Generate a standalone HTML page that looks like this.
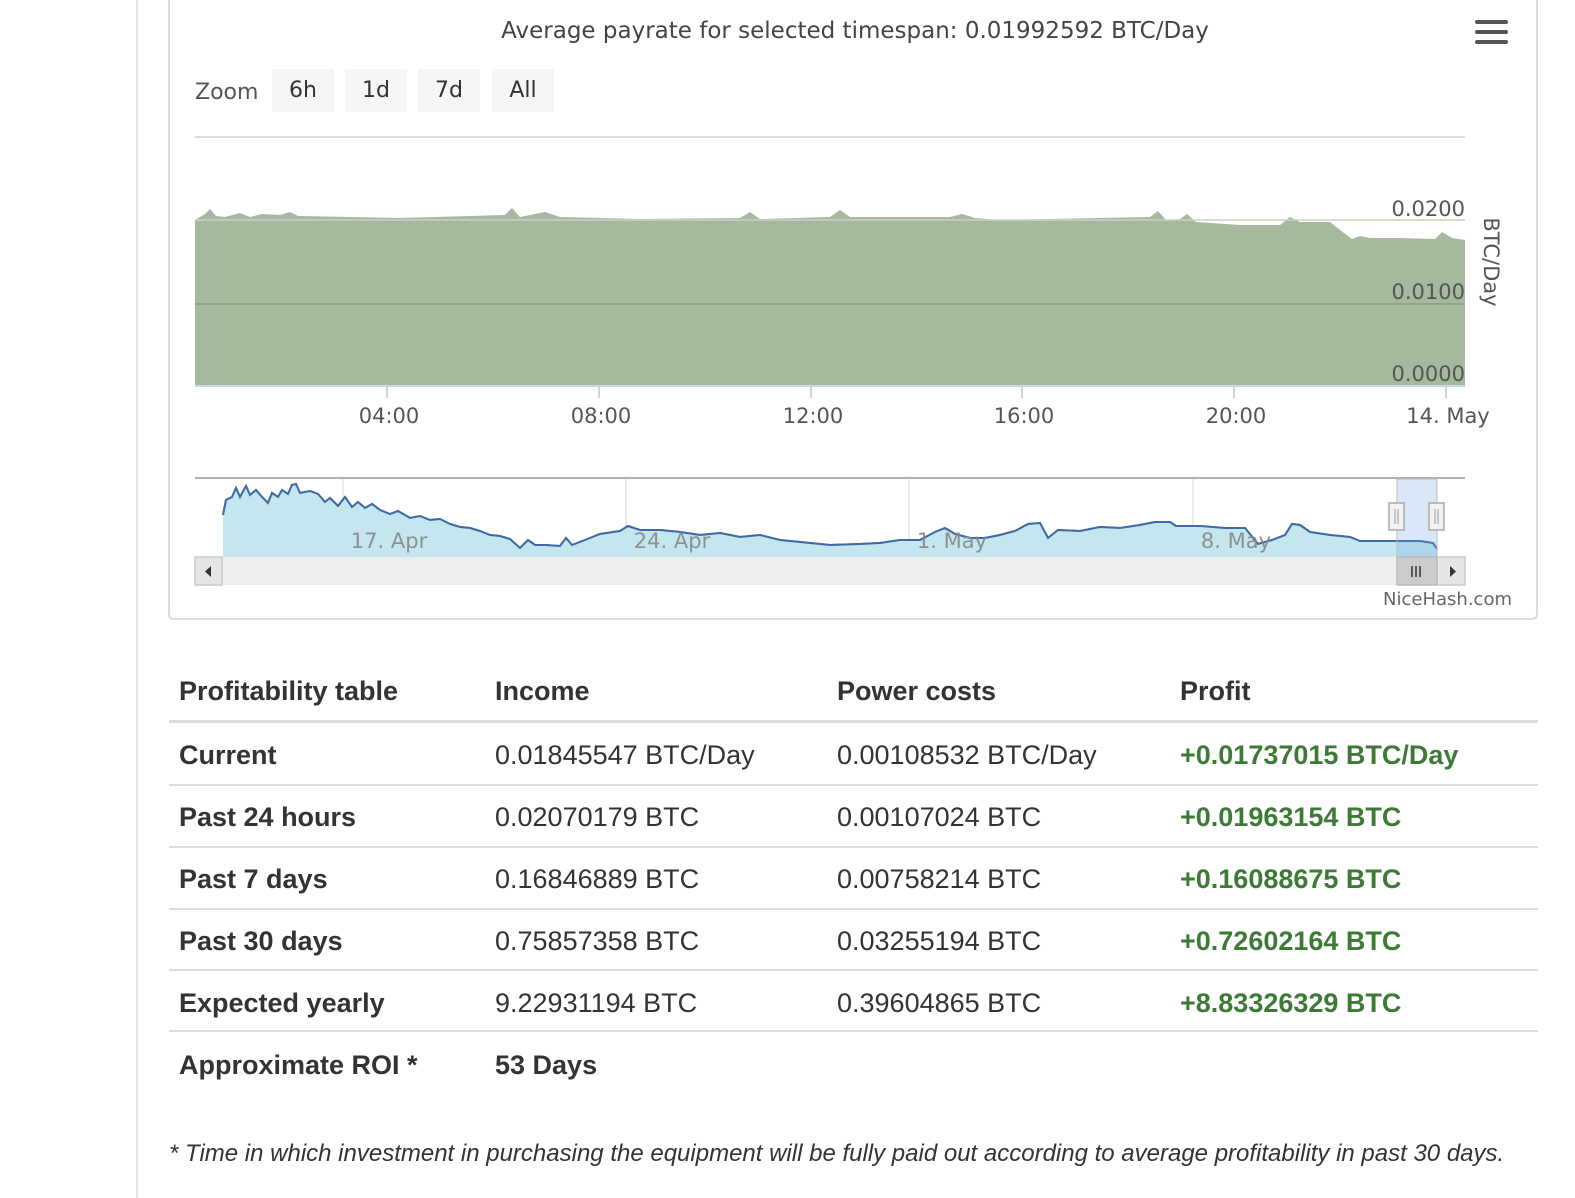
<!DOCTYPE html>
<html><head><meta charset="utf-8"><style>
body{margin:0;width:1575px;height:1198px;background:#fff;position:relative;overflow:hidden;font-family:"Liberation Sans",sans-serif}
.t{position:absolute;font-size:27px;color:#333;letter-spacing:0;white-space:nowrap}
.b{font-weight:bold}
.g{color:#3d7a35;font-weight:bold}
.ln{position:absolute;left:169px;width:1369px;height:2px;background:#ddd}
</style></head><body>
<div style="position:absolute;left:136px;top:0;width:2px;height:1198px;background:#e6e6e6"></div>
<svg width="1575" height="640" style="position:absolute;left:0;top:0" font-family="DejaVu Sans, sans-serif">
<path d="M169,0 V614 Q169,619 174,619 H1532 Q1537,619 1537,614 V0" fill="none" stroke="#ddd" stroke-width="2"/>
<text x="855" y="38" text-anchor="middle" font-size="23" fill="#444">Average payrate for selected timespan: 0.01992592 BTC/Day</text>
<g fill="#555"><rect x="1475" y="20" width="33" height="4" rx="2"/><rect x="1475" y="30" width="33" height="4" rx="2"/><rect x="1475" y="40" width="33" height="4" rx="2"/></g>
<text x="195" y="99" font-size="22" fill="#555">Zoom</text>
<g fill="#f6f6f6"><rect x="272" y="69" width="62" height="43"/><rect x="345" y="69" width="62" height="43"/><rect x="418" y="69" width="62" height="43"/><rect x="492" y="69" width="62" height="43"/></g>
<g font-size="22" fill="#333" text-anchor="middle"><text x="303" y="97">6h</text><text x="376" y="97">1d</text><text x="449" y="97">7d</text><text x="523" y="97">All</text></g>
<line x1="195" y1="137" x2="1465" y2="137" stroke="#ddd" stroke-width="2"/>
<path d="M195,220 L205,214 210,209 216,216 225,217 240,213 250,217 262,214 280,215 290,212 298,216 400,218 505,215 512,208 520,217 545,212 560,217 640,219 740,218 750,212 760,219 830,217 840,210 850,217 950,217 962,214 975,218 1000,220 1100,218 1150,217 1158,211 1166,220 1180,219 1187,214 1196,222 1240,225 1280,225 1290,217 1300,222 1330,222 1340,230 1352,239 1360,236 1370,238 1400,238 1435,239 1442,232 1452,238 1465,240 V386 H195 Z" fill="#a5b99e"/>
<line x1="195" y1="220" x2="1465" y2="220" stroke="#c8d3c4" stroke-width="1.5"/>
<line x1="195" y1="304" x2="1465" y2="304" stroke="#8a9e84" stroke-width="1.5"/>
<line x1="195" y1="386" x2="1465" y2="386" stroke="#c7d7e5" stroke-width="2"/>
<g stroke="#c7d7e5" stroke-width="2"><line x1="387" y1="387" x2="387" y2="398"/><line x1="599" y1="387" x2="599" y2="398"/><line x1="811" y1="387" x2="811" y2="398"/><line x1="1022" y1="387" x2="1022" y2="398"/><line x1="1234" y1="387" x2="1234" y2="398"/><line x1="1446" y1="387" x2="1446" y2="398"/></g>
<g font-size="21" fill="#555" text-anchor="end"><text x="1465" y="216">0.0200</text><text x="1465" y="299">0.0100</text><text x="1465" y="381">0.0000</text></g>
<text transform="translate(1484,262) rotate(90)" font-size="21" fill="#555" text-anchor="middle">BTC/Day</text>
<g font-size="21" fill="#555" text-anchor="middle"><text x="389" y="423">04:00</text><text x="601" y="423">08:00</text><text x="813" y="423">12:00</text><text x="1024" y="423">16:00</text><text x="1236" y="423">20:00</text><text x="1448" y="423">14. May</text></g>
<g stroke="#e6e6e6" stroke-width="1.5"><line x1="343" y1="479" x2="343" y2="556"/><line x1="626" y1="479" x2="626" y2="556"/><line x1="909" y1="479" x2="909" y2="556"/><line x1="1193" y1="479" x2="1193" y2="556"/></g>
<path id="nl" d="M223,515 L226,500 232,497 236,488 240,497 246,486 250,495 256,490 262,497 268,503 272,493 278,497 282,490 288,494 292,485 296,484 300,493 310,491 318,494 325,502 330,498 338,506 345,497 352,507 358,502 365,508 372,504 380,510 390,514 398,511 410,518 420,516 430,520 440,519 450,524 460,527 470,528 480,531 490,535 500,536 510,539 520,548 528,540 535,545 545,545 560,546 566,538 572,545 585,540 600,534 620,531 628,526 640,530 660,530 680,532 700,535 720,533 740,537 760,535 780,540 800,542 830,545 860,544 880,543 900,540 920,540 935,532 945,528 955,534 970,538 985,538 1000,535 1015,531 1028,524 1040,523 1048,538 1058,530 1080,531 1100,527 1120,528 1140,525 1155,522 1170,522 1176,526 1200,526 1225,528 1245,528 1258,544 1272,540 1285,535 1292,524 1300,525 1310,532 1330,535 1350,537 1360,541 1390,541 1420,541 1433,543 1437,549" fill="none" stroke="#3f6aa3" stroke-width="2"/>
<path d="M223,515 L226,500 232,497 236,488 240,497 246,486 250,495 256,490 262,497 268,503 272,493 278,497 282,490 288,494 292,485 296,484 300,493 310,491 318,494 325,502 330,498 338,506 345,497 352,507 358,502 365,508 372,504 380,510 390,514 398,511 410,518 420,516 430,520 440,519 450,524 460,527 470,528 480,531 490,535 500,536 510,539 520,548 528,540 535,545 545,545 560,546 566,538 572,545 585,540 600,534 620,531 628,526 640,530 660,530 680,532 700,535 720,533 740,537 760,535 780,540 800,542 830,545 860,544 880,543 900,540 920,540 935,532 945,528 955,534 970,538 985,538 1000,535 1015,531 1028,524 1040,523 1048,538 1058,530 1080,531 1100,527 1120,528 1140,525 1155,522 1170,522 1176,526 1200,526 1225,528 1245,528 1258,544 1272,540 1285,535 1292,524 1300,525 1310,532 1330,535 1350,537 1360,541 1390,541 1420,541 1433,543 1437,549 V557 H223 Z" fill="#c3e6ef"/>
<use href="#nl"/>
<g font-size="21" fill="#888" text-anchor="middle" opacity="0.9"><text x="389" y="548">17. Apr</text><text x="672" y="548">24. Apr</text><text x="952" y="548">1. May</text><text x="1236" y="548">8. May</text></g>
<line x1="195" y1="478" x2="1465" y2="478" stroke="#b0b0b8" stroke-width="2"/>
<rect x="1397" y="479" width="40" height="78" fill="#6aa0e0" fill-opacity="0.25" stroke="#bbb" stroke-width="1"/>
<rect x="195" y="557" width="1270" height="28" fill="#eee"/>
<rect x="195" y="557" width="27" height="28" fill="#e6e6e6" stroke="#ccc" stroke-width="1.5"/>
<path d="M211,566 v11 l-6,-5.5 z" fill="#333"/>
<rect x="1437" y="557" width="28" height="28" fill="#e6e6e6" stroke="#ccc" stroke-width="1.5"/>
<path d="M1450,566 v11 l6,-5.5 z" fill="#333"/>
<rect x="1397" y="557" width="40" height="28" fill="#ccc" stroke="#bbb" stroke-width="1.5"/>
<g stroke="#333" stroke-width="1.5"><line x1="1412" y1="566" x2="1412" y2="577"/><line x1="1416" y1="566" x2="1416" y2="577"/><line x1="1420" y1="566" x2="1420" y2="577"/></g>
<g fill="#f2f2f2" stroke="#aaa" stroke-width="1.5"><rect x="1389" y="503" width="15" height="27"/><rect x="1429" y="503" width="15" height="27"/></g>
<g stroke="#999" stroke-width="1"><line x1="1395" y1="509" x2="1395" y2="524"/><line x1="1398" y1="509" x2="1398" y2="524"/><line x1="1435" y1="509" x2="1435" y2="524"/><line x1="1438" y1="509" x2="1438" y2="524"/></g>
<text x="1512" y="605" text-anchor="end" font-size="18" fill="#666">NiceHash.com</text>
</svg>
<div class="ln" style="top:720px;height:3px"></div>
<div class="ln" style="top:784px"></div>
<div class="ln" style="top:846px"></div>
<div class="ln" style="top:908px"></div>
<div class="ln" style="top:969px"></div>
<div class="ln" style="top:1030px"></div>
<div class="t b" style="left:179px;top:676px">Profitability table</div>
<div class="t b" style="left:495px;top:676px">Income</div>
<div class="t b" style="left:837px;top:676px">Power costs</div>
<div class="t b" style="left:1180px;top:676px">Profit</div>

<div class="t b" style="left:179px;top:740px">Current</div>
<div class="t" style="left:495px;top:740px">0.01845547 BTC/Day</div>
<div class="t" style="left:837px;top:740px">0.00108532 BTC/Day</div>
<div class="t g" style="left:1180px;top:740px">+0.01737015 BTC/Day</div>

<div class="t b" style="left:179px;top:802px">Past 24 hours</div>
<div class="t" style="left:495px;top:802px">0.02070179 BTC</div>
<div class="t" style="left:837px;top:802px">0.00107024 BTC</div>
<div class="t g" style="left:1180px;top:802px">+0.01963154 BTC</div>

<div class="t b" style="left:179px;top:864px">Past 7 days</div>
<div class="t" style="left:495px;top:864px">0.16846889 BTC</div>
<div class="t" style="left:837px;top:864px">0.00758214 BTC</div>
<div class="t g" style="left:1180px;top:864px">+0.16088675 BTC</div>

<div class="t b" style="left:179px;top:926px">Past 30 days</div>
<div class="t" style="left:495px;top:926px">0.75857358 BTC</div>
<div class="t" style="left:837px;top:926px">0.03255194 BTC</div>
<div class="t g" style="left:1180px;top:926px">+0.72602164 BTC</div>

<div class="t b" style="left:179px;top:988px">Expected yearly</div>
<div class="t" style="left:495px;top:988px">9.22931194 BTC</div>
<div class="t" style="left:837px;top:988px">0.39604865 BTC</div>
<div class="t g" style="left:1180px;top:988px">+8.83326329 BTC</div>

<div class="t b" style="left:179px;top:1050px">Approximate ROI *</div>
<div class="t b" style="left:495px;top:1050px">53 Days</div>

<div class="t" style="left:169px;top:1140px;font-size:24px;font-style:italic">* Time in which investment in purchasing the equipment will be fully paid out according to average profitability in past 30 days.</div>
</body></html>
